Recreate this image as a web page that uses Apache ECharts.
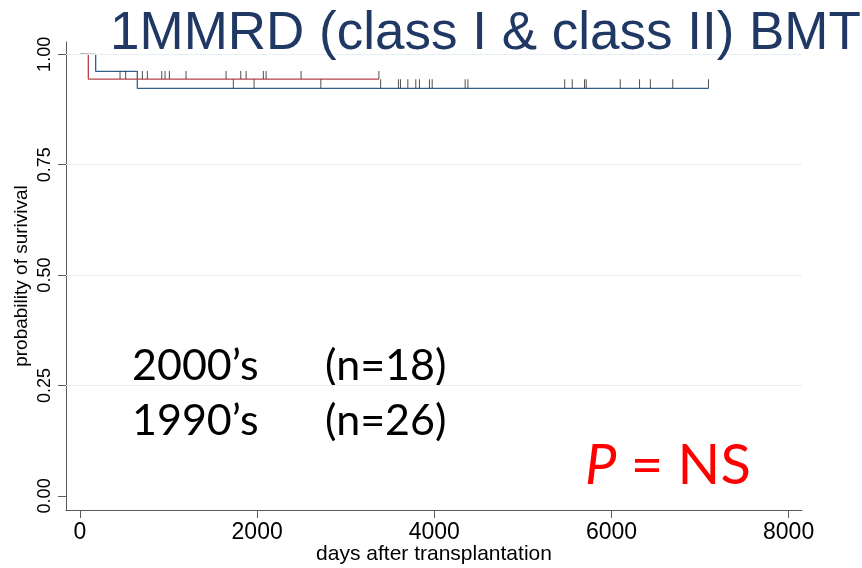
<!DOCTYPE html>
<html>
<head>
<meta charset="utf-8">
<script src="https://cdn.jsdelivr.net/npm/echarts@6/dist/echarts.min.js"></script>
<style>
html,body{margin:0;padding:0;background:#fff;}
#chart{width:862px;height:568px;}
</style>
</head>
<body>
<div id="chart"></div>
<script>
// ---- data ----
const xTickValues = [0, 2000, 4000, 6000, 8000];
const yTickValues = [0, 0.25, 0.5, 0.75, 1];
const gridValues = [0.25, 0.5, 0.75, 1];

// 2000's group (n=18) – red step curve
const red_days = [0, 94, 3374];
const red_surv = [1, 0.944, 0.944];
const red_censor_days = [452, 516, 704, 760, 923, 960, 1009, 1197, 1649, 1815, 1875, 2070, 2101, 2496, 3374];
const red_censor_surv = 0.944;

// 1990's group (n=26) – blue step curve
const blue_days = [0, 177, 647, 7095];
const blue_surv = [1, 0.9615, 0.923, 0.923];
const blue_censor_days = [1731, 1965, 2719, 3394, 3595, 3618, 3701, 3791, 3832, 3945, 3976, 4348, 4379, 5472, 5557, 5696, 5715, 6099, 6317, 6439, 6692, 7095];
const blue_censor_surv = 0.923;

const titleText = '1MMRD (class I & class II) BMT';
const groupLabels = ['2000\u2019s', '1990\u2019s'];
const groupNs = ['(n=18)', '(n=26)'];

const zip = (a, b) => a.map((v, i) => [v, b[i]]);

const chart = echarts.init(document.getElementById('chart'), null, {renderer: 'canvas'});
const axisColor = '#5a5a5a';

const option = {
  animation: false,
  backgroundColor: '#ffffff',
  title: {
    text: titleText,
    left: 105,
    top: 3,
    textStyle: {fontFamily: 'Liberation Sans', fontSize: 53, fontWeight: 'normal', color: '#1f3864'}
  },
  grid: {left: 66, right: 60, top: 42, bottom: 58, outerBoundsMode: 'none', containLabel: false},
  xAxis: {
    type: 'value',
    min: -158, max: 8151,
    name: 'days after transplantation',
    nameLocation: 'middle',
    nameGap: 34,
    nameMoveOverlap: false,
    nameTextStyle: {fontFamily: 'Liberation Sans', fontSize: 21, color: '#000'},
    axisLine: {show: true, onZero: false, lineStyle: {color: axisColor, width: 1}},
    axisTick: {show: true, length: 8, customValues: xTickValues, lineStyle: {color: axisColor}},
    axisLabel: {customValues: xTickValues, margin: 11, fontFamily: 'Liberation Sans', fontSize: 23, color: '#000', formatter: v => String(v)},
    splitLine: {show: false}
  },
  yAxis: {
    type: 'value',
    min: -0.032, max: 1.028,
    name: 'probability of surivival',
    nameLocation: 'middle',
    nameRotate: 90,
    nameGap: 35,
    nameMoveOverlap: false,
    nameTextStyle: {fontFamily: 'Liberation Sans', fontSize: 19, color: '#000'},
    axisLine: {show: true, onZero: false, lineStyle: {color: axisColor, width: 1}},
    axisTick: {show: true, length: 8, customValues: yTickValues, lineStyle: {color: axisColor}},
    axisLabel: {customValues: yTickValues, rotate: 90, margin: 12, fontFamily: 'Liberation Sans', fontSize: 18, color: '#000', formatter: v => v.toFixed(2)},
    splitLine: {show: false}
  },
  series: [
    {
      type: 'line', name: '1990s', step: 'end', showSymbol: false,
      data: zip(blue_days, blue_surv),
      lineStyle: {color: '#355f8a', width: 1.3},
      markLine: {
        silent: true, symbol: 'none', label: {show: false},
        lineStyle: {color: '#e6eff1', width: 1, type: 'solid'},
        data: gridValues.map(v => ({yAxis: v}))
      },
      z: 2
    },
    {
      type: 'line', name: '2000s', step: 'end', showSymbol: false,
      data: zip(red_days, red_surv),
      lineStyle: {color: '#b8434c', width: 1.3},
      z: 3
    },
    {
      type: 'scatter', name: '1990s censored',
      data: blue_censor_days.map(d => [d, blue_censor_surv]),
      symbol: 'rect', symbolSize: [1, 9], symbolOffset: [0, '-50%'],
      itemStyle: {color: '#222'}, z: 4
    },
    {
      type: 'scatter', name: '2000s censored',
      data: red_censor_days.map(d => [d, red_censor_surv]),
      symbol: 'rect', symbolSize: [1, 8], symbolOffset: [0, '-50%'],
      itemStyle: {color: '#222'}, z: 4
    }
  ],
  graphic: [
    {type: 'text', left: 132, top: 345, style: {text: groupLabels[0], font: '43px Lato', fill: '#000'}},
    {type: 'text', left: 325, top: 345, style: {text: groupNs[0], font: '43px Lato', fill: '#000'}},
    {type: 'text', left: 132, top: 400, style: {text: groupLabels[1], font: '43px Lato', fill: '#000'}},
    {type: 'text', left: 325, top: 400, style: {text: groupNs[1], font: '43px Lato', fill: '#000'}},
    {type: 'text', left: 585, top: 438, style: {
      text: '{p|P} = NS',
      font: '56px Lato', fill: '#ff0000',
      rich: {p: {fontStyle: 'italic', fontFamily: 'Lato', fontSize: 56, fill: '#ff0000', color: '#ff0000'}}
    }}
  ]
};
chart.setOption(option);
</script>
</body>
</html>
